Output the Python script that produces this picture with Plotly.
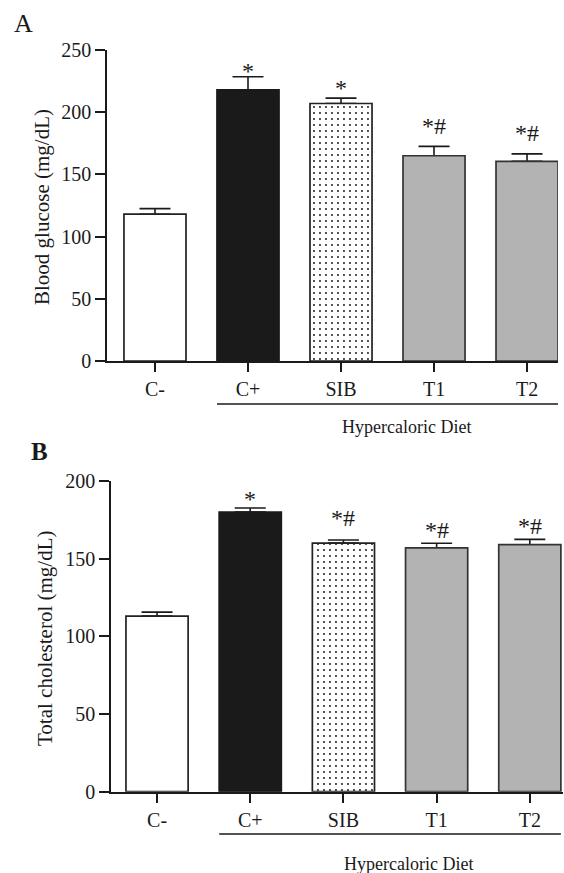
import plotly.graph_objects as go

categories = ["C-", "C+", "SIB", "T1", "T2"]
glucose_mean = [118, 218, 207, 165, 160.5]
glucose_err = [4.5, 10.5, 4.3, 7.5, 6]
glucose_sig = ["", "*", "*", "*#", "*#"]
chol_mean = [113, 180, 160, 157, 159]
chol_err = [2.6, 2.6, 2, 2.9, 3.4]
chol_sig = ["", "*", "*#", "*#", "*#"]
group_label = "Hypercaloric Diet"

W, H = 564, 873
FONT = "Liberation Serif"
INK = "#1a1a1a"

fill_colors = ["white", "#1a1a1a", "white", "#b3b3b3", "#b3b3b3"]
line_colors = ["#222222", "#1a1a1a", "#222222", "#333333", "#333333"]
patterns = ["", "", ".", "", ""]

def px_x(p):
    return p / W

def px_y(p):
    return 1 - p / H

xpos = list(range(len(categories)))
BAR_W = 0.667

fig = go.Figure()

def add_panel(means, errs, xa, ya):
    # error bars first, so the bars cover their lower end
    fig.add_trace(go.Bar(
        x=xpos, y=means, width=BAR_W, xaxis=xa, yaxis=ya,
        marker=dict(color="rgba(0,0,0,0)", line=dict(width=0)),
        error_y=dict(type="data", array=errs, arrayminus=[0] * len(errs), symmetric=False,
                     color=INK, thickness=1.6, width=15.5),
        showlegend=False, hoverinfo="skip"))
    for i in xpos:
        marker = dict(color=fill_colors[i], line=dict(color=line_colors[i], width=1.7))
        if patterns[i]:
            marker["pattern"] = dict(shape=patterns[i], fgcolor="#111111", bgcolor="white",
                                     size=6, solidity=0.08, fillmode="replace")
        fig.add_trace(go.Bar(
            x=[xpos[i]], y=[means[i]], width=BAR_W, xaxis=xa, yaxis=ya,
            marker=marker, showlegend=False, hoverinfo="skip"))

add_panel(glucose_mean, glucose_err, "x", "y")
add_panel(chol_mean, chol_err, "x2", "y2")

axis_common = dict(showgrid=False, zeroline=False, showline=True, linecolor=INK, linewidth=1.6,
                   ticks="outside", tickcolor=INK, tickwidth=1.6, automargin=False,
                   tickfont=dict(family=FONT, size=20, color=INK))

fig.update_layout(
    width=W, height=H, margin=dict(l=0, r=0, t=0, b=0, pad=0, autoexpand=False),
    plot_bgcolor="white", paper_bgcolor="white", barmode="overlay",
    font=dict(family=FONT, color=INK),
    xaxis=dict(domain=[px_x(107), px_x(558)], range=[-0.516, 4.333], anchor="y",
               tickmode="array", tickvals=xpos, ticktext=categories, ticklen=9, **axis_common),
    yaxis=dict(domain=[px_y(361), px_y(50)], range=[0, 250], anchor="x",
               tickmode="array", tickvals=[0, 50, 100, 150, 200, 250], ticklen=10, **axis_common),
    xaxis2=dict(domain=[px_x(111), px_x(563)], range=[-0.494, 4.356], anchor="y2",
                tickmode="array", tickvals=xpos, ticktext=categories, ticklen=9, **axis_common),
    yaxis2=dict(domain=[px_y(791.7), px_y(481)], range=[0, 200], anchor="x2",
                tickmode="array", tickvals=[0, 50, 100, 150, 200], ticklen=10, **axis_common),
)

annotations = []
shapes = []

# significance markers
shifts_a = [0, 6, 10, 20, 20.5]
shifts_b = [0, 8.7, 22, 13, 13]
for i, (m, e, s) in enumerate(zip(glucose_mean, glucose_err, glucose_sig)):
    if s:
        annotations.append(dict(x=i, y=m + e, xref="x", yref="y", text=s, showarrow=False,
                                yanchor="middle", yshift=shifts_a[i],
                                font=dict(family=FONT, size=24, color=INK)))
for i, (m, e, s) in enumerate(zip(chol_mean, chol_err, chol_sig)):
    if s:
        annotations.append(dict(x=i, y=m + e, xref="x2", yref="y2", text=s, showarrow=False,
                                yanchor="middle", yshift=shifts_b[i],
                                font=dict(family=FONT, size=24, color=INK)))

# axis titles
annotations.append(dict(x=px_x(42), y=px_y(207), xref="paper", yref="paper",
                        text="Blood glucose (mg/dL)", textangle=-90, showarrow=False,
                        xanchor="center", yanchor="middle",
                        font=dict(family=FONT, size=21, color=INK)))
annotations.append(dict(x=px_x(45), y=px_y(639), xref="paper", yref="paper",
                        text="Total cholesterol (mg/dL)", textangle=-90, showarrow=False,
                        xanchor="center", yanchor="middle",
                        font=dict(family=FONT, size=21, color=INK)))

# panel letters
annotations.append(dict(x=px_x(12), y=px_y(23), xref="paper", yref="paper", text="A",
                        showarrow=False, xanchor="left", yanchor="middle",
                        font=dict(family=FONT, size=26, color=INK)))
annotations.append(dict(x=px_x(29), y=px_y(451), xref="paper", yref="paper", text="<b>B</b>",
                        showarrow=False, xanchor="left", yanchor="middle",
                        font=dict(family=FONT, size=25, color=INK)))

# group lines and labels
for xr, line_y, text_y in (("x", 404, 427), ("x2", 834, 864)):
    shapes.append(dict(type="line", xref=xr, yref="paper", x0=0.667, x1=4.333,
                       y0=px_y(line_y), y1=px_y(line_y), line=dict(color=INK, width=1.6)))
    annotations.append(dict(x=2.7, y=px_y(text_y), xref=xr, yref="paper", text=group_label,
                            showarrow=False, xanchor="center", yanchor="middle",
                            font=dict(family=FONT, size=18, color=INK)))

fig.update_layout(annotations=annotations, shapes=shapes)
fig.write_html("out.html")
